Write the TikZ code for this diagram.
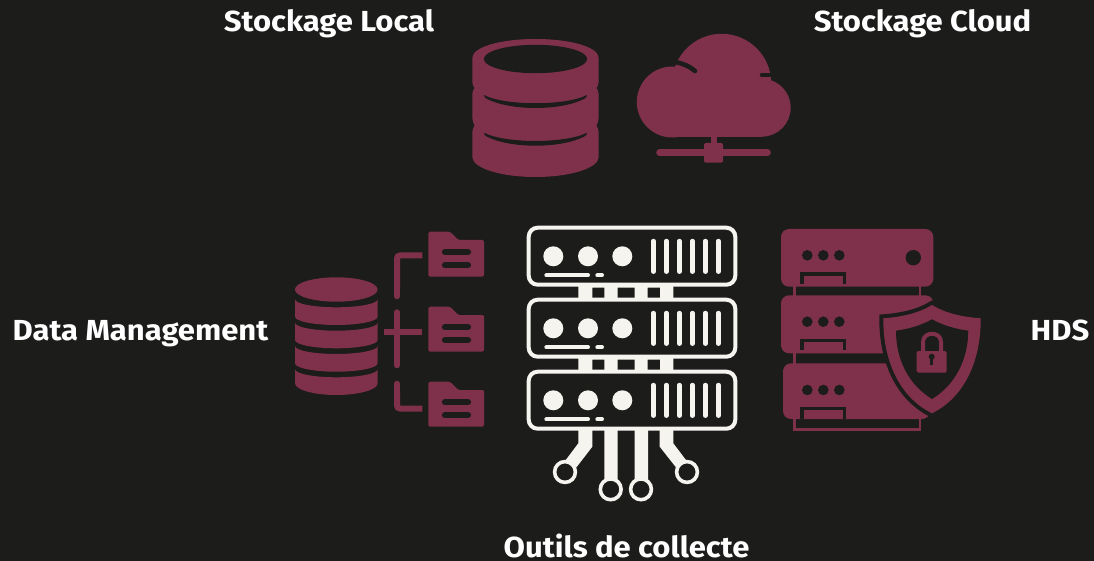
\documentclass[tikz,border=0pt]{standalone}
\usepackage{fontspec}
\setmainfont{Fira Sans}[FakeStretch=1.07]
\definecolor{bgc}{HTML}{1C1C1B}
\definecolor{mar}{HTML}{7F314B}
\definecolor{crm}{HTML}{F6F4EF}
\tikzset{
  lab/.style={text=white,font=\fontsize{29}{32}\selectfont\bfseries,inner sep=0pt,anchor=base},
  mline/.style={draw=mar,line width=6pt},
}
% band of the small database: side top, centre top, side bottom, centre bottom
\newcommand{\dbband}[4]{%
  \pgfmathsetmacro{\ca}{#1+0.55*(#2-#1)}%
  \pgfmathsetmacro{\cb}{#3+0.55*(#4-#3)}%
  \fill[mar] (295,#1) .. controls (295,\ca) and (313.6,#2) .. (336.3,#2)
    .. controls (359,#2) and (377.7,\ca) .. (377.7,#1) -- (377.7,#3)
    .. controls (377.7,\cb) and (359,#4) .. (336.3,#4)
    .. controls (313.6,#4) and (295,\cb) .. (295,#3) -- cycle;}
\newcommand{\folder}[1]{%
  \begin{scope}[yshift=-#1pt]
    \fill[mar,rounded corners=1.5pt] (428.3,231.7) -- (450,231.7) -- (458.3,240) -- (484,240) -- (484,276.7) -- (428.3,276.7) -- cycle;
    \draw[bgc,line width=6.3pt,line cap=round] (445,252.2) -- (468,252.2) (445,265.2) -- (468,265.2);
  \end{scope}}
\newcommand{\rack}[1]{%
  \begin{scope}[yshift=-#1pt]
    \draw[crm,line width=4pt,rounded corners=9pt] (528.7,227.7) rectangle (735.3,284.7);
    \foreach \cx in {553.3,588,622.3} \fill[crm] (\cx,256.3) circle (10);
    \foreach \bx in {653.3,666.3,679.3,692.3,705.3,718.3}
      \draw[crm,line width=4.4pt,line cap=round] (\bx,241) -- (\bx,271.7);
    \draw[crm,line width=4pt,line cap=round] (546.3,275.3) -- (588,275.3) (597.3,275.3) -- (602,275.3);
  \end{scope}}
\newcommand{\links}[1]{%
  \begin{scope}[yshift=-#1pt]
    \fill[crm] (578.3,284) rectangle (592.3,298.5) (604.3,284) rectangle (617.7,298.5)
      (634.7,284) rectangle (647.7,298.5) (660,284) rectangle (673.3,298.5)
      (578.3,284) rectangle (673.3,287.5);
  \end{scope}}
\newcommand{\unit}[1]{%
  \foreach \dx in {807.3,823.3,839.3} \fill[bgc] (\dx,#1) circle (5.3);
  \draw[bgc,line width=3.3pt] (802,#1+28.7) -- (802,#1+18.7) -- (844.3,#1+18.7) -- (844.3,#1+28.7);}
\begin{document}
\begin{tikzpicture}[x=1pt,y=-1pt]
\useasboundingbox (0,0) rectangle (1094,561);
\fill[bgc] (0,0) rectangle (1094,561);

% labels
\node[lab] (local) at (329,31.5) {Stockage Local};
\node[lab] (cloud) at (922.5,31.5) {Stockage Cloud};
\node[lab] (dm) at (140.5,340.3) {Data Management};
\node[lab] (hds) at (1060,340.3) {HDS};
\node[lab] (outils) at (626.5,557.5) {Outils de collecte};

% big database
\fill[mar] (472.3,58) .. controls (472.3,47) and (500.5,39) .. (535.5,39)
  .. controls (570.5,39) and (598.7,47) .. (598.7,58) -- (598.7,82)
  .. controls (598.7,85) and (597,87) .. (596.5,88) .. controls (597,89) and (598.7,91) .. (598.7,94)
  -- (598.7,118) .. controls (598.7,121) and (597,124) .. (596.5,125.5) .. controls (597,127) and (598.7,129) .. (598.7,132)
  -- (598.7,157) .. controls (598.7,168) and (570.5,177) .. (535.5,177)
  .. controls (500.5,177) and (472.3,168) .. (472.3,157) -- (472.3,132)
  .. controls (472.3,129) and (474,127) .. (474.5,125.5) .. controls (474,124) and (472.3,121) .. (472.3,118)
  -- (472.3,94) .. controls (472.3,91) and (474,89) .. (474.5,88) .. controls (474,87) and (472.3,85) .. (472.3,82) -- cycle;
\fill[bgc] (535.5,59) ellipse [x radius=51.7,y radius=14.2];
\fill[bgc] (484,95) .. controls (505,106) and (566,106) .. (587,95) .. controls (587,97) and (586,98) .. (584,99)
  .. controls (560,111) and (511,111) .. (487,99) .. controls (485,98) and (484,97) .. (484,95) -- cycle;
\fill[bgc] (484,132.7) .. controls (505,143.7) and (566,143.7) .. (587,132.7) .. controls (587,134.7) and (586,135.7) .. (584,136.7)
  .. controls (560,148.7) and (511,148.7) .. (487,136.7) .. controls (485,135.7) and (484,134.7) .. (484,132.7) -- cycle;

% cloud
\fill[mar] (672.3,102) circle (35.5) (761.7,107.7) circle (29) (721.7,83.3) circle (49.5);
\fill[mar] (673,85) rectangle (762,136.8);
\draw[bgc,line width=4.6pt,line cap=round] (664,61.5) .. controls (678,61) and (688,65) .. (695,71);
\fill[bgc] (660,50) -- (678,58) -- (664,63) -- cycle;
\draw[bgc,line width=4.6pt,line cap=round] (762,75) -- (780,75);
\fill[mar] (710.7,136) rectangle (716.7,146);
\draw[mar,line width=6.6pt,line cap=round] (659.5,152.7) -- (767.5,152.7);
\fill[mar,rounded corners=2pt] (704,143) rectangle (723,162.7);

% small database
\fill[mar] (336.3,289.5) ellipse [x radius=41.35,y radius=12.2];
\dbband{299.3}{307.3}{316.7}{325}
\dbband{322.7}{330.7}{340}{348.3}
\dbband{346}{354}{363.3}{371.7}
\dbband{369.3}{377.3}{383.3}{395}

% branch lines
\draw[mline,rounded corners=3pt] (422.3,255.5) -- (397,255.5) -- (397,290);
\draw[mar,line width=6pt,line cap=round] (397,285) -- (397,296.3);
\draw[mar,line width=6pt,line cap=round] (397,312.3) -- (397,365.3);
\draw[mline] (384,332) -- (422.3,332);
\draw[mline,rounded corners=3pt] (422.3,408.5) -- (397,408.5) -- (397,390);
\draw[mar,line width=6pt,line cap=round] (397,383.7) -- (397,395);
\folder{0}\folder{75}\folder{150}

% collection rack
\rack{0}\rack{72}\rack{144}
\links{0}\links{72}
\fill[crm] (578.3,430) -- (592.3,430) -- (592.3,446.7) -- (576.7,467) -- (565,461) -- (578.3,443.3) -- cycle;
\fill[crm] (673.3,430) -- (659.7,430) -- (659.7,446.7) -- (675.7,467) -- (686.7,461) -- (673.3,443.3) -- cycle;
\fill[crm] (604.3,430) rectangle (617.7,480) (634.7,430) rectangle (648,480);
\foreach \px/\py in {565/472,610.7/489.3,641/489.3,687/472}
  \draw[crm,line width=3.6pt,fill=bgc] (\px,\py) circle (10.4);

% secure servers
\draw[mar,line width=2.6pt] (794.6,284) -- (794.6,298) (920,284) -- (920,298)
  (794.6,351) -- (794.6,366);
\draw[mar,line width=2.6pt,fill=bgc] (794.6,417) rectangle (920,429.6);
\fill[mar,rounded corners=8pt] (781,229) rectangle (933.3,286.7);
\fill[mar,rounded corners=8pt] (781,295.3) rectangle (933.3,353.3);
\fill[mar,rounded corners=8pt] (783,363.3) rectangle (930,419);
\unit{255.3}\unit{321.7}\unit{390}
\fill[bgc] (913.3,257.7) circle (7.7);
\draw[bgc,line width=8pt,fill=mar,line join=miter] (932,305) .. controls (945,313) and (962,317) .. (980.7,318.3)
  .. controls (981,360) and (965,397) .. (932,413.3)
  .. controls (899,397) and (883,360) .. (883.3,318.3)
  .. controls (902,317) and (919,313) .. (932,305) -- cycle;
\fill[mar] (932,305) .. controls (945,313) and (962,317) .. (980.7,318.3)
  .. controls (981,360) and (965,397) .. (932,413.3)
  .. controls (899,397) and (883,360) .. (883.3,318.3)
  .. controls (902,317) and (919,313) .. (932,305) -- cycle;
\fill[bgc] (932,319.3) .. controls (942,325) and (955,329) .. (968.3,330.7)
  .. controls (968,360) and (955,385) .. (932,399)
  .. controls (909,385) and (896,360) .. (896,330.7)
  .. controls (909,329) and (922,325) .. (932,319.3) -- cycle;
% padlock
\draw[mar,line width=4pt] (923,353) -- (923,342) .. controls (923,331) and (941,331) .. (941,342) -- (941,353);
\fill[mar,rounded corners=1.5pt] (916.7,351) rectangle (946.7,372.7);
\fill[bgc] (931.7,356.7) circle (3);
\fill[bgc] (930.4,357) rectangle (933,365);
\end{tikzpicture}
\end{document}
